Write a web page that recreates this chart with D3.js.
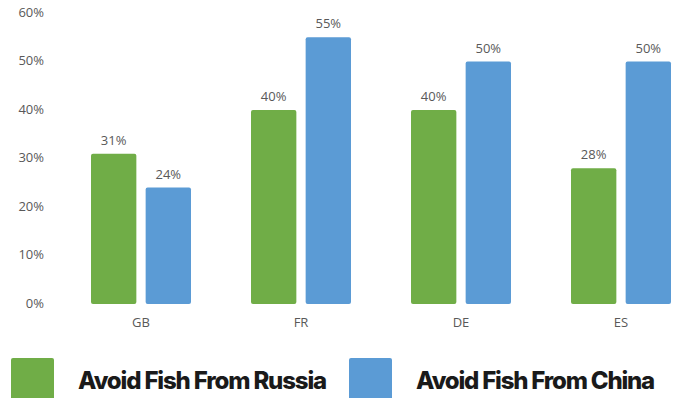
<!DOCTYPE html>
<html>
<head>
<meta charset="utf-8">
<script src="https://cdn.jsdelivr.net/npm/d3@7"></script>
<style>
  html, body { margin: 0; padding: 0; background: #fff; }
  svg { display: block; }
</style>
</head>
<body>
<svg id="chart" width="675" height="398"></svg>
<script>
// Share of consumers who avoid fish by origin, per country
const countries = ["GB", "FR", "DE", "ES"];
const russia = [31, 40, 40, 28];
const china = [24, 55, 50, 50];
const seriesNames = ["Avoid Fish From Russia", "Avoid Fish From China"];
const seriesColors = ["#70AD47", "#5B9BD5"];
const yTicks = [0, 10, 20, 30, 40, 50, 60];

const svg = d3.select("#chart");
const labelFont = "'Open Sans', 'DejaVu Sans', sans-serif";

const x0 = d3.scaleBand().domain(countries).range([61, 701]).paddingInner(0).paddingOuter(0);
const x1 = d3.scaleBand().domain([0, 1]).range([30, 130]).paddingInner(0.17);
const y = d3.scaleLinear().domain([0, 60]).range([304, 13]);

// Y axis labels (no line, no grid)
const yAxis = d3.axisLeft(y).tickValues(yTicks).tickFormat(d => d + "%").tickSize(0).tickPadding(0);
const gy = svg.append("g").attr("transform", "translate(44,-1)").call(yAxis);
gy.select(".domain").remove();
gy.selectAll("text").attr("fill", "#595959").style("font-family", labelFont).style("font-size", "13px");

// X axis labels
const xAxis = d3.axisBottom(x0).tickSize(0).tickPadding(0);
const gx = svg.append("g").attr("transform", "translate(0,318)").call(xAxis);
gx.select(".domain").remove();
gx.selectAll("text").attr("fill", "#595959").style("font-family", labelFont).style("font-size", "13px");

const rows = countries.map((c, i) => ({ country: c, values: [russia[i], china[i]] }));

const groups = svg.append("g").selectAll("g").data(rows).join("g")
  .attr("transform", d => `translate(${x0(d.country) + x0.bandwidth() / 2 - 80},0)`);

groups.selectAll("rect").data(d => d.values.map((v, k) => ({ v, k }))).join("rect")
  .attr("x", d => x1(d.k))
  .attr("width", x1.bandwidth())
  .attr("y", d => y(d.v))
  .attr("height", d => y(0) - y(d.v))
  .attr("rx", 2).attr("ry", 2)
  .attr("fill", d => seriesColors[d.k]);

groups.selectAll("text.val").data(d => d.values.map((v, k) => ({ v, k }))).join("text")
  .attr("class", "val")
  .attr("x", d => x1(d.k) + x1.bandwidth() / 2)
  .attr("y", d => y(d.v) - 9)
  .attr("text-anchor", "middle")
  .attr("fill", "#595959")
  .style("font-family", labelFont)
  .style("font-size", "13px")
  .text(d => d.v + "%");

// Legend
const legendX = [11, 349];
const legendWidths = [248, 238];
const legend = svg.append("g").selectAll("g").data(seriesNames).join("g")
  .attr("transform", (d, i) => `translate(${legendX[i]},358)`);
legend.append("rect")
  .attr("width", 43).attr("height", 44).attr("rx", 2)
  .attr("fill", (d, i) => seriesColors[i]);
legend.append("text")
  .attr("x", 67).attr("y", 31)
  .attr("fill", "#1a1a1a")
  .style("font-family", "Inter, 'Liberation Sans', Arial, sans-serif")
  .style("font-weight", "800")
  .style("font-size", "24px")
  .style("letter-spacing", "-1.2px")
  .text(d => d)
  .each(function (d, i) {
    // tighten or loosen tracking so each label spans its slot
    const t = d3.select(this);
    const w = this.getComputedTextLength();
    const n = d.length;
    const ls = -1.2 + (legendWidths[i] - w) / n;
    t.style("letter-spacing", ls + "px");
  });
</script>
</body>
</html>
